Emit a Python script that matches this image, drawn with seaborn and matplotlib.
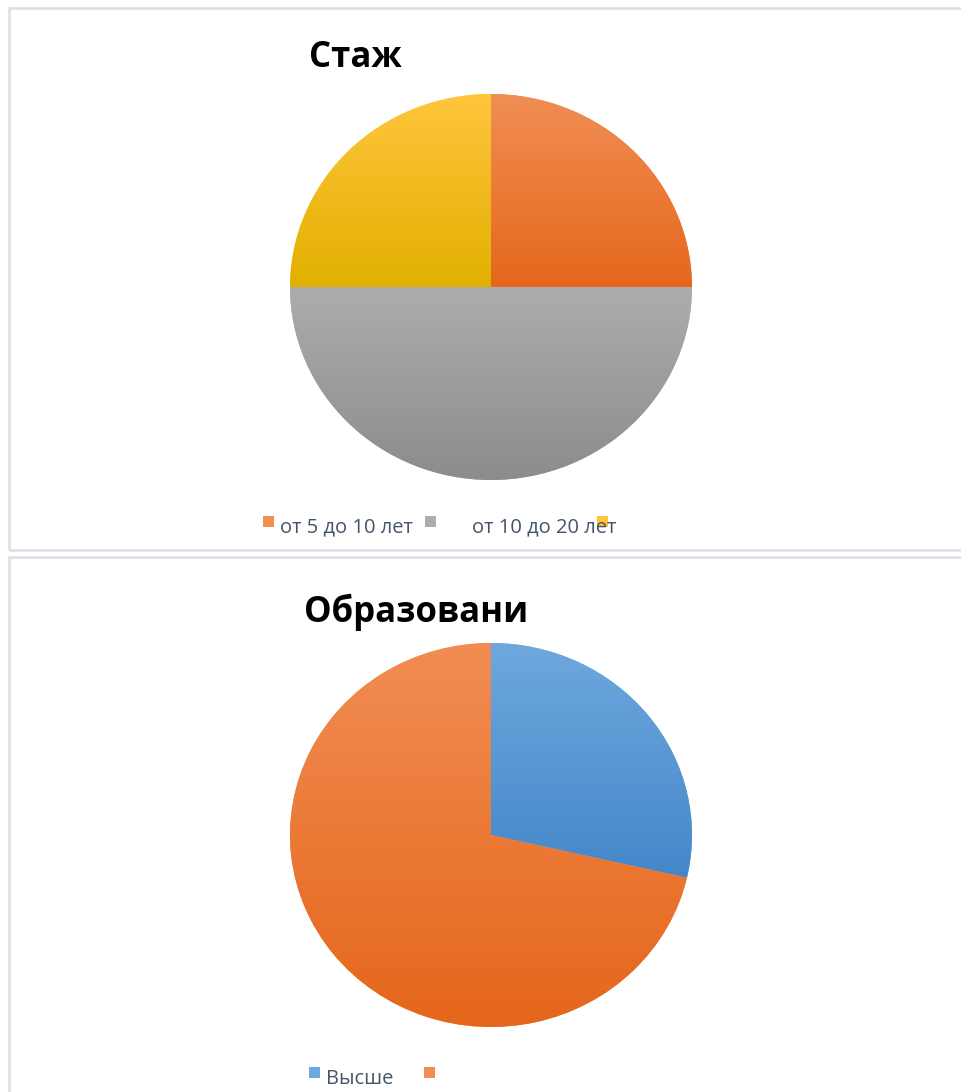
import matplotlib.pyplot as plt
import numpy as np
import seaborn as sns
from matplotlib.colors import LinearSegmentedColormap
from matplotlib.patches import Rectangle

sns.set_theme(style="white")
plt.rcParams['font.family'] = ['Open Sans', 'DejaVu Sans']

# данные
stazh_labels = ["от 5 до 10 лет", "от 10 до 20 лет", ""]
stazh_values = [1, 2, 1]
stazh_top = ["#F18E54", "#ADADAD", "#FFC53D"]
stazh_bottom = ["#E5671B", "#8C8C8C", "#E2B000"]

obr_labels = ["Высше", ""]
obr_values = [2, 5]
obr_top = ["#6EA8DE", "#F18D53"]
obr_bottom = ["#4487C9", "#E5661A"]

W, H = 962, 1092
fig = plt.figure(figsize=(W / 100, H / 100), dpi=100)
fig.patch.set_facecolor("white")


def px(x, y):
    return x / W, 1 - y / H


# рамки
for y0, y1 in [(8, 550), (557, 1100)]:
    fig.add_artist(Rectangle(px(9, y1), (W + 10) / W, (y1 - y0) / H, transform=fig.transFigure,
                             fill=False, edgecolor="#DCDFE6", linewidth=1.8))


def gradient_pie(ax, values, tops, bottoms):
    wedges, _ = ax.pie(values, startangle=90, counterclock=False, colors=tops,
                       wedgeprops=dict(linewidth=0))
    for w, c1, c2 in zip(wedges, tops, bottoms):
        verts = w.get_path().vertices
        ymin, ymax = verts[:, 1].min(), verts[:, 1].max()
        cmap = LinearSegmentedColormap.from_list("g", [c2, c1])
        grad = np.linspace(0, 1, 256).reshape(-1, 1)
        im = ax.imshow(grad, cmap=cmap, extent=[-1.05, 1.05, ymin, ymax], origin="lower",
                       aspect="auto", zorder=2)
        im.set_clip_path(w)
    ax.set_xlim(-1, 1)
    ax.set_ylim(-1, 1)
    ax.set_aspect("auto")
    ax.axis("off")


ax1 = fig.add_axes([290 / W, 1 - 480 / H, 402 / W, 386 / H])
gradient_pie(ax1, stazh_values, stazh_top, stazh_bottom)
ax2 = fig.add_axes([290 / W, 1 - 1027 / H, 402 / W, 384 / H])
gradient_pie(ax2, obr_values, obr_top, obr_bottom)

fig.text(*px(309, 58), "Стаж", fontsize=25, fontweight="bold", color="black", va="center", ha="left")
fig.text(*px(304, 612), "Образовани", fontsize=25, fontweight="bold", color="black", va="center", ha="left")

# легенды
txt_color = "#44546A"
for (mx, tx), lab, col in zip([(263, 280), (425, 472), (597, 615)], stazh_labels, stazh_top):
    fig.add_artist(Rectangle(px(mx, 527), 11 / W, 11 / H, transform=fig.transFigure,
                             facecolor=col, edgecolor="none"))
    fig.text(*px(tx, 527), lab, fontsize=14.5, color=txt_color, va="center", ha="left")

for (mx, tx), lab, col in zip([(309, 326), (424, 442)], obr_labels, obr_top):
    fig.add_artist(Rectangle(px(mx, 1078), 11 / W, 11 / H, transform=fig.transFigure,
                             facecolor=col, edgecolor="none"))
    fig.text(*px(tx, 1079), lab, fontsize=14.5, color=txt_color, va="center", ha="left")

fig.savefig("out.png", dpi=100, facecolor="white")
